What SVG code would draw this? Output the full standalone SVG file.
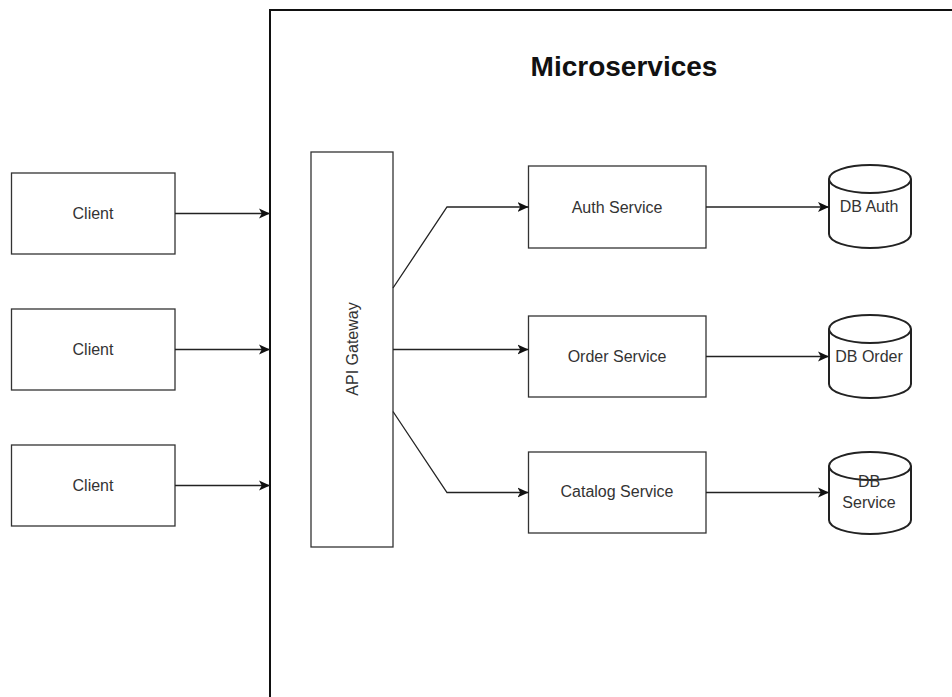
<svg xmlns="http://www.w3.org/2000/svg" width="952" height="697" viewBox="0 0 952 697">
<style>
.box{fill:#fff;stroke:#333;stroke-width:1.3}
.cyl{fill:#fff;stroke:#222;stroke-width:2}
.lbl{font-family:"Liberation Sans",Arial,sans-serif;font-size:16px;fill:#333;text-anchor:middle;dominant-baseline:central}
.conn{fill:none;stroke:#222;stroke-width:1.3}
</style>
<defs>
<marker id="arr" viewBox="0 0 10 10" refX="10" refY="5" markerWidth="11" markerHeight="11" markerUnits="userSpaceOnUse" orient="auto">
<path d="M0,0.5 L10,5 L0,9.5 L2.5,5 Z" fill="#111"/>
</marker>
</defs>
<rect width="952" height="697" fill="#fff"/>
<g id="frame">
<rect x="270" y="10" width="720" height="720" fill="none" stroke="#111" stroke-width="2"/>
<text x="624" y="66" font-family="'Liberation Sans',Arial,sans-serif" font-size="28" font-weight="bold" fill="#111" text-anchor="middle" dominant-baseline="central">Microservices</text>
</g>
<g id="client1"><rect class="box" x="11.5" y="173" width="163.5" height="81"/><text class="lbl" x="93" y="213.5">Client</text></g>
<g id="client2"><rect class="box" x="11.5" y="309" width="163.5" height="81"/><text class="lbl" x="93" y="349.5">Client</text></g>
<g id="client3"><rect class="box" x="11.5" y="445" width="163.5" height="81"/><text class="lbl" x="93" y="485.5">Client</text></g>
<g id="gateway"><rect class="box" x="311" y="152" width="82" height="395"/><text class="lbl" transform="translate(352,349) rotate(-90)" x="0" y="0">API Gateway</text></g>
<g id="auth"><rect class="box" x="528.5" y="166" width="177.5" height="82"/><text class="lbl" x="617" y="207">Auth Service</text></g>
<g id="order"><rect class="box" x="528.5" y="316" width="177.5" height="81"/><text class="lbl" x="617" y="356">Order Service</text></g>
<g id="catalog"><rect class="box" x="528.5" y="452" width="177.5" height="81"/><text class="lbl" x="617" y="491.5">Catalog Service</text></g>
<g id="dbauth"><path class="cyl" d="M829,179 A41,14 0 0 1 911,179 L911,234 A41,14 0 0 1 829,234 Z M829,179 A41,14 0 0 0 911,179"/><text class="lbl" x="869" y="206">DB Auth</text></g>
<g id="dborder"><path class="cyl" d="M829,329 A41,14 0 0 1 911,329 L911,384 A41,14 0 0 1 829,384 Z M829,329 A41,14 0 0 0 911,329"/><text class="lbl" x="869" y="356">DB Order</text></g>
<g id="dbservice"><path class="cyl" d="M829,466 A41,14 0 0 1 911,466 L911,520 A41,14 0 0 1 829,520 Z M829,466 A41,14 0 0 0 911,466"/><text class="lbl" x="869" y="481">DB</text><text class="lbl" x="869" y="502">Service</text></g>
<g id="connectors">
<path class="conn" marker-end="url(#arr)" d="M175,213.5 H270"/>
<path class="conn" marker-end="url(#arr)" d="M175,349.5 H270"/>
<path class="conn" marker-end="url(#arr)" d="M175,485.5 H270"/>
<path class="conn" marker-end="url(#arr)" d="M393,288 L447,207 H528.5"/>
<path class="conn" marker-end="url(#arr)" d="M393,349.5 H528.5"/>
<path class="conn" marker-end="url(#arr)" d="M393,411.5 L447,492.5 H528.5"/>
<path class="conn" marker-end="url(#arr)" d="M706,207 H829"/>
<path class="conn" marker-end="url(#arr)" d="M706,356.5 H829"/>
<path class="conn" marker-end="url(#arr)" d="M706,492.5 H829"/>
</g>
</svg>
